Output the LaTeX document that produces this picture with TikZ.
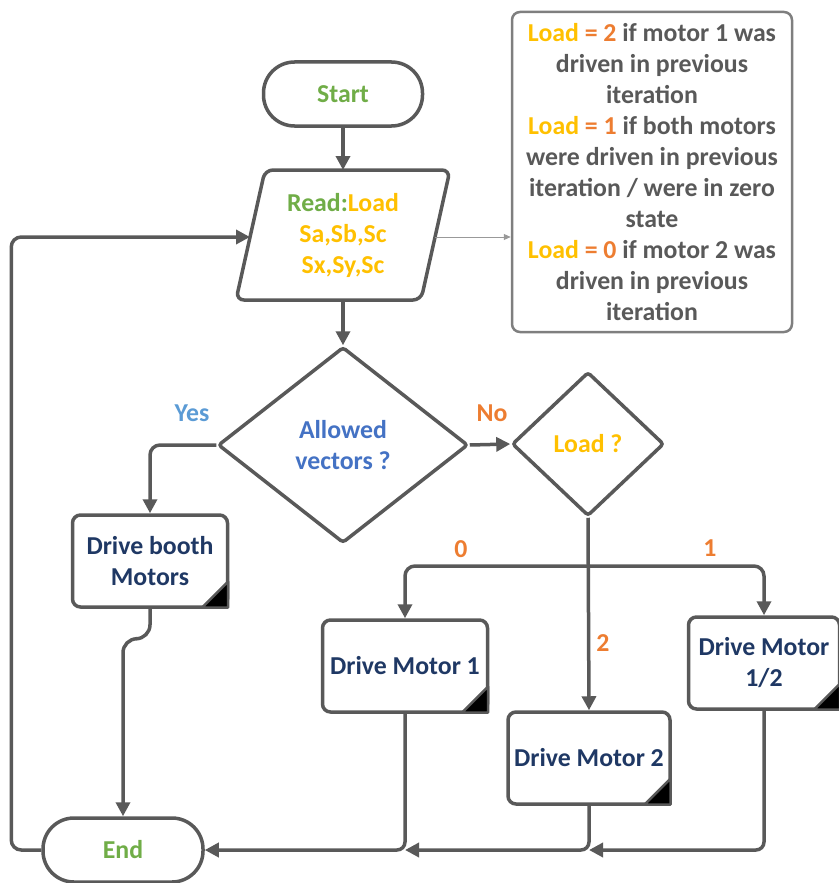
\documentclass[tikz,border=0pt]{standalone}
\usepackage{fontspec}
\setmainfont{Carlito}
\usetikzlibrary{arrows.meta, positioning, shapes.geometric}

\definecolor{linegray}{HTML}{595959}
\definecolor{notegray}{HTML}{7F7F7F}
\definecolor{cgreen}{HTML}{70AD47}
\definecolor{cyellow}{HTML}{FFC000}
\definecolor{corange}{HTML}{ED7D31}
\definecolor{cblue}{HTML}{4472C4}
\definecolor{clight}{HTML}{5B9BD5}
\definecolor{cnavy}{HTML}{1F3864}

\newcommand{\ld}[1]{{\color{cyellow}Load} {\color{corange}= #1}}

\begin{document}
\begin{tikzpicture}[x=1pt, y=-1pt,
    every node/.style={font=\fontsize{25.8}{31}\selectfont\bfseries},
    terminal/.style={draw=linegray, line width=3.5pt, fill=white, rounded corners=31pt,
        minimum width=159pt, minimum height=64pt, text=cgreen},
    decision/.style={draw=linegray, line width=3.5pt, fill=white, diamond, rounded corners=3pt,
        inner sep=0pt, align=center},
    process/.style={draw=linegray, line width=3.5pt, fill=white, rounded corners=8pt,
        minimum height=92pt, align=center, text=cnavy},
    flow/.style={draw=linegray, line width=3.5pt, -{Triangle[length=14pt,width=14pt]}},
    link/.style={draw=linegray, line width=3.5pt},
    pointer/.style={draw=notegray!80, line width=1pt, -{Triangle[length=7pt,width=6pt]}},
    branch/.style={text=corange}]

    \useasboundingbox (0,0) rectangle (838,883);

    % start / end
    \node[terminal] (start) at (343,94) {Start};
    \node[terminal, minimum width=160pt] (end) at (123,850) {End};

    % input block
    \draw[link, fill=white, rounded corners=8pt]
        (265,170) -- (450,170) -- (421,300) -- (236,300) -- cycle;
    \node[align=center, minimum width=150pt, minimum height=130pt, outer sep=0pt] (read) at (343,235)
        {{\color{cgreen}Read:}{\color{cyellow}Load}\\ \color{cyellow}Sa,Sb,Sc\\ \color{cyellow}Sx,Sy,Sc};
    \coordinate (readin) at (250,237);
    \coordinate (readout) at (435,237);

    % note on the load values
    \node[draw=notegray, line width=2.5pt, rounded corners=8pt, minimum width=280pt,
        minimum height=320pt, text=linegray, align=center] (note) at (652,172)
        {\ld{2} if motor 1 was\\ driven in previous\\ iteration\\
         \ld{1} if both motors\\ were driven in previous\\ iteration / were in zero\\ state\\
         \ld{0} if motor 2 was\\ driven in previous\\ iteration};

    % decisions
    \node[decision, minimum width=250pt, minimum height=196pt, text=cblue] (allowed) at (343,445)
        {Allowed\\ vectors ?};
    \node[decision, minimum width=152pt, minimum height=144pt, text=cyellow] (load) at (588,444)
        {Load ?};

    % process blocks
    \node[process, minimum width=155pt] (booth) at (150,561) {Drive booth\\ Motors};
    \node[process, minimum width=165pt] (dm1) at (405,666) {Drive Motor 1};
    \node[process, minimum width=162pt] (dm2) at (589,758) {Drive Motor 2};
    \node[process, minimum width=151pt] (dm12) at (764,663) {Drive Motor\\ 1/2};

    \foreach \b in {booth,dm1,dm2,dm12}
        \filldraw[fill=black, draw=linegray, line width=2.5pt, line join=round]
            ([shift={(-1.2,-1.2)}]\b.south east) -- ++(-26,0) -- ++(26,-26) -- cycle;

    % labels on the branches
    \node[text=clight] (yes) at (192,413) {Yes};
    \node[branch] (no) at (492,413) {No};
    \node[branch] (zero) at (461,549) {0};
    \node[branch] (one) at (710,548) {1};
    \node[branch] (two) at (603,643) {2};

    % connectors
    \draw[flow] (start) -- (read.north);
    \draw[flow] (read.south) -- (allowed.north);
    \draw[pointer] (readout) -- (note.west |- readout);
    \draw[flow, rounded corners=10pt] (allowed.west) -| (booth.north);
    \draw[flow] (allowed.east) -- (load.west);

    \coordinate (split) at (load.south |- 0,566);
    \draw[flow] (load.south) -- (dm2.north);
    \draw[flow, rounded corners=10pt] (split) -| (dm1.north);
    \draw[flow, rounded corners=10pt] (split) -| (dm12.north);

    \draw[flow, rounded corners=14pt] (booth.south) -- ++(0,30) -| (end.north);

    \coordinate (m1foot) at (dm1.south |- end.east);
    \coordinate (m2foot) at (dm2.south |- end.east);
    \draw[flow, rounded corners=8pt] (dm1.south) |- (end.east);
    \draw[flow, rounded corners=8pt] (dm2.south) |- (m1foot);
    \draw[flow, rounded corners=8pt] (dm12.south) |- (m2foot);

    \draw[flow, rounded corners=10pt] (end.west) -- ++(-30,0) |- (readin);

\end{tikzpicture}
\end{document}
